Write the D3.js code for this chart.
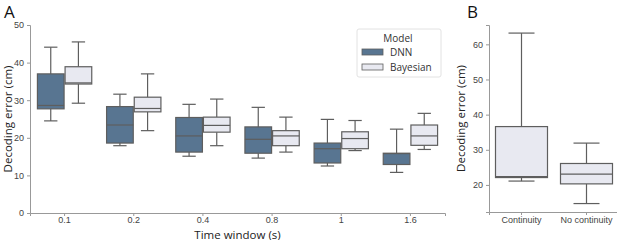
<!DOCTYPE html>
<html>
<head>
<meta charset="utf-8">
<script src="https://cdn.jsdelivr.net/npm/d3@7"></script>
<style>
  body { margin: 0; background: #fff; }
  svg { display: block; font-family: "Open Sans", "Lato", sans-serif; }
  .axis path, .axis line { stroke: #999; }
  .axis text { fill: #444; font-size: 9px; }
  .axis-title { fill: #222; font-size: 11.5px; }
  .panel-label { fill: #111; font-size: 17px; }
</style>
</head>
<body>
<div id="chart"></div>
<script>
// Panel A: decoding error per time window, two models side by side.
const windows = ["0.1", "0.2", "0.4", "0.8", "1", "1.6"];
const models = ["DNN", "Bayesian"];
// each entry: [whisker low, q1, median, q3, whisker high]
const dnnStats = [
  [24.5, 27.7, 28.6, 37.0, 44.1],
  [17.9, 18.6, 23.4, 28.3, 31.6],
  [15.1, 16.2, 20.5, 25.4, 28.9],
  [14.6, 15.9, 19.6, 22.9, 28.1],
  [12.5, 13.3, 17.1, 18.6, 24.9],
  [10.8, 12.9, 15.8, 15.9, 22.3]
];
const bayesStats = [
  [29.2, 34.3, 34.6, 38.9, 45.5],
  [21.9, 26.9, 27.8, 30.8, 37.0],
  [17.9, 21.5, 23.3, 25.5, 30.3],
  [16.2, 17.9, 20.5, 21.9, 25.5],
  [16.6, 17.1, 19.8, 21.6, 24.6],
  [16.9, 18.0, 20.5, 23.4, 26.5]
];
const yTicksA = [0, 10, 20, 30, 40, 50];

// Panel B: continuity vs no continuity.
const conditions = ["Continuity", "No continuity"];
const condStats = [
  [21.1, 22.1, 22.4, 36.6, 63.2],
  [14.7, 20.3, 23.1, 26.1, 31.9]
];
const yTicksB = [20, 30, 40, 50, 60];

const colors = { DNN: "#587591", Bayesian: "#e8e9f1" };
const edge = "#5e5e5e";

const W = 617, H = 240;
const svg = d3.select("#chart").append("svg").attr("width", W).attr("height", H);

function drawBox(g, cx, w, s, fill, y) {
  const [lo, q1, med, q3, hi] = s;
  const seg = (x1, x2, y1, y2) => g.append("line")
    .attr("x1", x1).attr("x2", x2).attr("y1", y1).attr("y2", y2)
    .attr("stroke", edge).attr("stroke-width", 1.2);
  seg(cx, cx, y(hi), y(q3));
  seg(cx, cx, y(q1), y(lo));
  seg(cx - w / 4, cx + w / 4, y(hi), y(hi));
  seg(cx - w / 4, cx + w / 4, y(lo), y(lo));
  g.append("rect").attr("x", cx - w / 2).attr("width", w)
    .attr("y", y(q3)).attr("height", y(q1) - y(q3))
    .attr("fill", fill).attr("stroke", edge).attr("stroke-width", 1.2);
  seg(cx - w / 2, cx + w / 2, y(med), y(med));
}

// ---- Panel A ----
const a = { left: 30, right: 445, top: 25, bottom: 213 };
const xA = d3.scaleBand(windows, [a.left, a.right]);
const xSub = d3.scaleBand(models, [0, xA.bandwidth() * 0.8]);
const yA = d3.scaleLinear([0, 50], [a.bottom, a.top]);
const gA = svg.append("g");

windows.forEach((w, i) => {
  const x0 = xA(w) + xA.bandwidth() * 0.1;
  drawBox(gA, x0 + xSub("DNN") + xSub.bandwidth() / 2, xSub.bandwidth() - 1, dnnStats[i], colors.DNN, yA);
  drawBox(gA, x0 + xSub("Bayesian") + xSub.bandwidth() / 2, xSub.bandwidth() - 1, bayesStats[i], colors.Bayesian, yA);
});

gA.append("g").attr("class", "axis").attr("transform", `translate(0,${a.bottom})`)
  .call(d3.axisBottom(xA).tickSize(3).tickPadding(1));
gA.append("g").attr("class", "axis").attr("transform", `translate(${a.left},0)`)
  .call(d3.axisLeft(yA).tickValues(yTicksA).tickSize(3).tickPadding(3));
gA.append("text").attr("class", "axis-title").attr("text-anchor", "middle")
  .attr("x", (a.left + a.right) / 2).attr("y", 238.5).text("Time window (s)");
gA.append("text").attr("class", "axis-title").attr("text-anchor", "middle")
  .attr("transform", `translate(12,${(a.top + a.bottom) / 2}) rotate(-90)`).text("Decoding error (cm)");
gA.append("text").attr("class", "panel-label").attr("x", 4).attr("y", 17.5).text("A");

// legend
const lg = gA.append("g").attr("transform", "translate(357,29)");
lg.append("rect").attr("width", 84).attr("height", 48).attr("rx", 2)
  .attr("fill", "#fff").attr("stroke", "#e2e2e2");
lg.append("text").attr("x", 41).attr("y", 13).attr("text-anchor", "middle")
  .attr("font-size", 10).attr("fill", "#333").text("Model");
models.forEach((m, i) => {
  lg.append("rect").attr("x", 5).attr("y", 20 + i * 15).attr("width", 21).attr("height", 6)
    .attr("fill", colors[m]).attr("stroke", edge).attr("stroke-width", 0.8);
  lg.append("text").attr("x", 33).attr("y", 27 + i * 15)
    .attr("font-size", 10).attr("fill", "#333").text(m);
});

// ---- Panel B ----
const b = { left: 489, right: 619, top: 25, bottom: 212 };
const xB = d3.scaleBand(conditions, [b.left, b.right]);
const yB = d3.scaleLinear([12.3, 65.5], [b.bottom, b.top]);
const gB = svg.append("g");

conditions.forEach((c, i) => {
  drawBox(gB, xB(c) + xB.bandwidth() / 2, xB.bandwidth() * 0.8, condStats[i], colors.Bayesian, yB);
});

gB.append("g").attr("class", "axis").attr("transform", `translate(0,${b.bottom})`)
  .call(d3.axisBottom(xB).tickSize(3).tickPadding(2));
gB.append("g").attr("class", "axis").attr("transform", `translate(${b.left},0)`)
  .call(d3.axisLeft(yB).tickValues(yTicksB).tickSize(3).tickPadding(3));
gB.append("text").attr("class", "axis-title").attr("text-anchor", "middle")
  .attr("transform", `translate(465,${(b.top + b.bottom) / 2}) rotate(-90)`).text("Decoding error (cm)");
gB.append("text").attr("class", "panel-label").attr("x", 467).attr("y", 17.5).text("B");
</script>
</body>
</html>
